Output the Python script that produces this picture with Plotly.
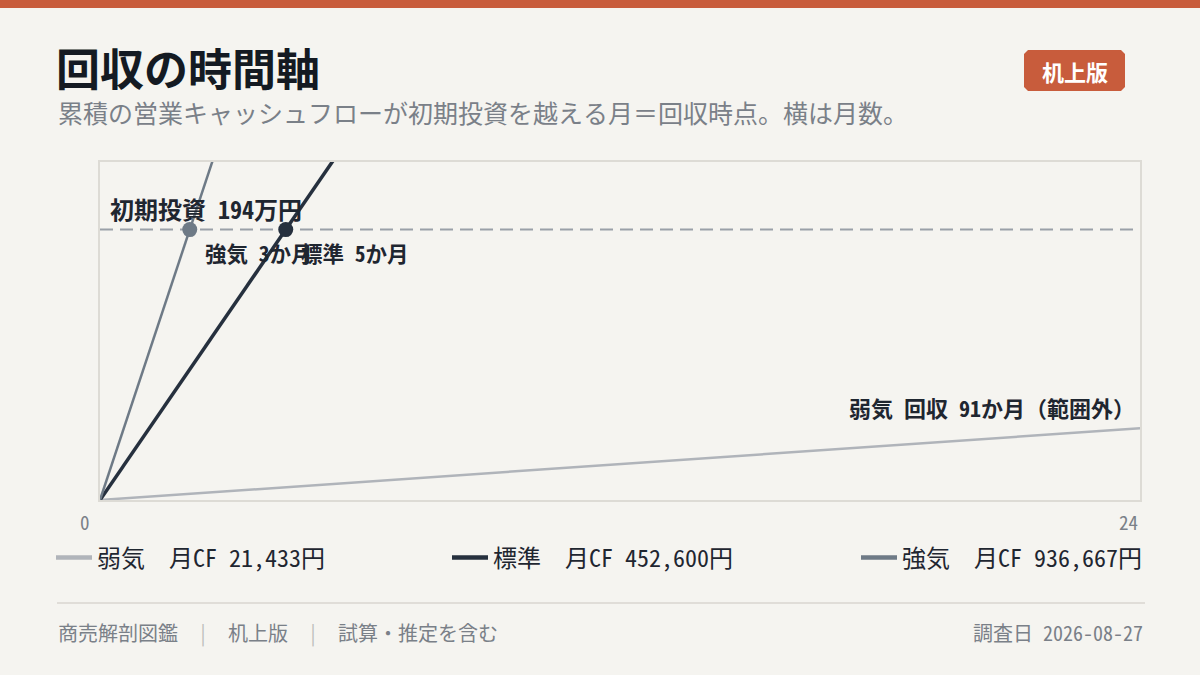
import plotly.graph_objects as go

# --- data ---
investment = 1940000
scenarios = ['弱気', '標準', '強気']
monthly_cf = [21433, 452600, 936667]
payback_months = [91, 5, 3]
months = [0, 24]
x_ticks = [0, 24]
y_max = 2425000

colors = {'弱気': '#B0B4BA', '標準': '#26303E', '強気': '#6E7A86'}
widths = {'弱気': 2.5, '標準': 3.5, '強気': 2.5}
legend_x = {'弱気': 51, '標準': 447, '強気': 856}

FONT = 'Noto Sans Mono CJK JP, Noto Sans CJK JP, monospace'
BG = '#F5F4F0'
ACCENT = '#C85C3C'
INK = '#1F2630'
MUTED = '#7A8088'

# plot area in pixels
L, R, T, B = 100, 60, 162, 175
W, H = 1200, 675
PW, PH = W - L - R, H - T - B


def px(x):
    return (x - L) / PW


def py(y):
    return (H - B - y) / PH


fig = go.Figure()

for i, (name, cf) in enumerate(zip(scenarios, monthly_cf)):
    fig.add_trace(go.Scatter(
        x=months, y=[m * cf for m in months], mode='lines', showlegend=False,
        line=dict(color=colors[name], width=widths[name]), hoverinfo='skip',
    ))
    # legend-only entry with a thicker swatch
    fig.add_trace(go.Scatter(
        x=[None], y=[None], mode='lines', name=f'{name}　月CF {cf:,}円',
        line=dict(color=colors[name], width=4.5), legend='legend' if i == 0 else f'legend{i + 1}',
    ))

# payback points (inside range only)
for name, cf, pb in zip(scenarios, monthly_cf, payback_months):
    xm = investment / cf
    if xm <= months[-1]:
        fig.add_trace(go.Scatter(
            x=[xm], y=[investment], mode='markers', showlegend=False,
            marker=dict(size=15, color=colors[name]), hoverinfo='skip',
        ))
        fig.add_annotation(x=xm, y=investment, text=f'<b>{name} {pb}か月</b>', showarrow=False,
                           xanchor='left', yanchor='middle', xshift=13, yshift=-23,
                           font=dict(family=FONT, size=21.5, color=INK))
    else:
        fig.add_annotation(x=months[-1], y=cf * months[-1], text=f'<b>{name} 回収 {pb}か月（範囲外）</b>',
                           showarrow=False, xanchor='right', yanchor='middle', xshift=-3, yshift=21,
                           font=dict(family=FONT, size=22, color=INK))

# investment line
fig.add_shape(type='line', x0=months[0], x1=months[-1] - 0.15, y0=investment, y1=investment,
              line=dict(color='#9AA0A8', width=2, dash='13px,7px'), layer='below')
fig.add_annotation(x=months[0], y=investment, text=f'<b>初期投資 {investment // 10000}万円</b>', showarrow=False,
                   xanchor='left', yanchor='middle', xshift=8, yshift=21,
                   font=dict(family=FONT, size=24, color=INK))

# axis labels at ends
fig.add_annotation(x=x_ticks[0], y=0, text=str(x_ticks[0]), showarrow=False, xanchor='center', yanchor='middle',
                   xshift=-15, yshift=-21, font=dict(family=FONT, size=19, color=MUTED))
fig.add_annotation(x=x_ticks[1], y=0, text=str(x_ticks[1]), showarrow=False, xanchor='right', yanchor='middle',
                   yshift=-21, font=dict(family=FONT, size=19, color=MUTED))

# header / footer
fig.add_shape(type='rect', xref='paper', yref='paper', x0=px(0), x1=px(W), y0=py(8), y1=py(0),
              fillcolor=ACCENT, line_width=0)
fig.add_annotation(xref='paper', yref='paper', x=px(54), y=py(67), text='<b>回収の時間軸</b>', showarrow=False,
                   xanchor='left', yanchor='middle', font=dict(family=FONT, size=44, color='#141A22'))
fig.add_annotation(xref='paper', yref='paper', x=px(56), y=py(112),
                   text='累積の営業キャッシュフローが初期投資を越える月＝回収時点。横は月数。', showarrow=False,
                   xanchor='left', yanchor='middle', font=dict(family=FONT, size=25, color=MUTED))

# badge
bx0, bx1, by0, by1, r = 1024, 1125, 50, 91, 4
badge = (f'M {px(bx0 + r)},{py(by0)} L {px(bx1 - r)},{py(by0)} L {px(bx1)},{py(by0 + r)} '
         f'L {px(bx1)},{py(by1 - r)} L {px(bx1 - r)},{py(by1)} L {px(bx0 + r)},{py(by1)} '
         f'L {px(bx0)},{py(by1 - r)} L {px(bx0)},{py(by0 + r)} Z')
fig.add_shape(type='path', xref='paper', yref='paper', path=badge, fillcolor=ACCENT, line_width=0)
fig.add_annotation(xref='paper', yref='paper', x=px((bx0 + bx1) / 2), y=py((by0 + by1) / 2), text='<b>机上版</b>',
                   showarrow=False, xanchor='center', yanchor='middle',
                   font=dict(family=FONT, size=22, color='white'))

fig.add_shape(type='line', xref='paper', yref='paper', x0=px(57), x1=px(1145), y0=py(603), y1=py(603),
              line=dict(color='#D8D6D0', width=1.5))
sep = '<span style="color:#BDBDBD">　|　</span>'
fig.add_annotation(xref='paper', yref='paper', x=px(56), y=py(632),
                   text=f'商売解剖図鑑{sep}机上版{sep}試算・推定を含む', showarrow=False,
                   xanchor='left', yanchor='middle', font=dict(family=FONT, size=20, color=MUTED))
fig.add_annotation(xref='paper', yref='paper', x=px(1145), y=py(632), text='調査日 2026-08-27', showarrow=False,
                   xanchor='right', yanchor='middle', font=dict(family=FONT, size=20, color=MUTED))

legend_common = dict(orientation='h', yanchor='middle', xanchor='left', y=py(558), bgcolor='rgba(0,0,0,0)',
                     font=dict(family=FONT, size=24, color=INK), itemwidth=36)
fig.update_layout(
    width=W, height=H,
    margin=dict(l=L, r=R, t=T, b=B),
    paper_bgcolor=BG, plot_bgcolor=BG,
    font=dict(family=FONT),
    showlegend=True,
    legend=dict(legend_common, x=px(legend_x['弱気'])),
    legend2=dict(legend_common, x=px(legend_x['標準'])),
    legend3=dict(legend_common, x=px(legend_x['強気'])),
)
fig.update_xaxes(range=[months[0], months[-1]], showgrid=False, zeroline=False, showticklabels=False,
                 ticks='', showline=True, linecolor='#DDDBD5', linewidth=1.5, mirror=True)
fig.update_yaxes(range=[0, y_max], showgrid=False, zeroline=False, showticklabels=False,
                 ticks='', showline=True, linecolor='#DDDBD5', linewidth=1.5, mirror=True)

fig.write_html('out.html', config={'displayModeBar': False},
               post_script="document.body.style.margin='0';")
